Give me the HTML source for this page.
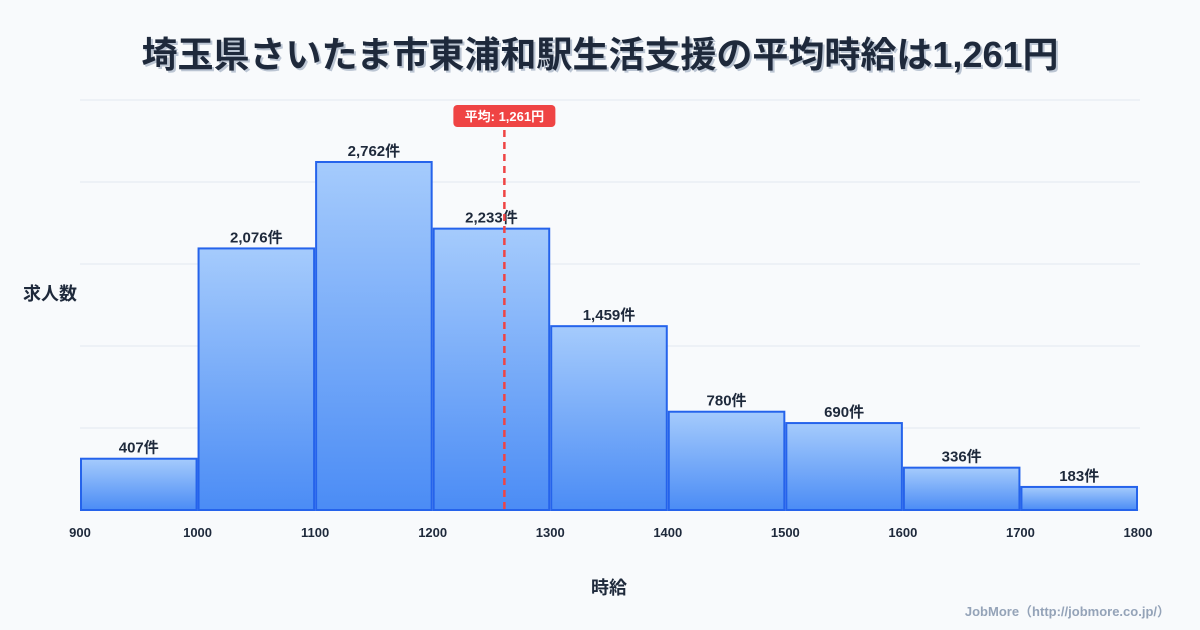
<!DOCTYPE html>
<html><head><meta charset="utf-8"><style>
body{margin:0;background:#f8fafc;}
svg{display:block;font-family:"Liberation Sans","Noto Sans CJK JP",sans-serif;}
</style></head><body>
<svg id="c" width="1200" height="630">
<rect width="1200" height="630" fill="#f8fafc"/>
<defs><linearGradient id="g" x1="0" y1="0" x2="0" y2="1"><stop offset="0" stop-color="#a5cbfc"/><stop offset="1" stop-color="#4b8cf5"/></linearGradient></defs>
<text x="600" y="67" text-anchor="middle" font-size="36" font-weight="bold" fill="#94a3b8" opacity="0.6" transform="translate(2,2)">埼玉県さいたま市東浦和駅生活支援の平均時給は1,261円</text>
<text x="600" y="67" text-anchor="middle" font-size="36" font-weight="bold" fill="#1e293b">埼玉県さいたま市東浦和駅生活支援の平均時給は1,261円</text>
<g id="grid"></g><g id="bars"></g><g id="xt"></g>
<text x="50" y="300" text-anchor="middle" font-size="18" font-weight="bold" fill="#1e293b">求人数</text>
<text x="609" y="594" text-anchor="middle" font-size="18" font-weight="bold" fill="#1e293b">時給</text>
<text x="1170" y="616" text-anchor="end" font-size="13" font-weight="bold" fill="#94a3b8">JobMore（http://jobmore.co.jp/）</text>
<g id="mean"></g>
</svg>
<script>
const binStarts=[900,1000,1100,1200,1300,1400,1500,1600,1700];
const counts=[407,2076,2762,2233,1459,780,690,336,183];
const labels=["407件","2,076件","2,762件","2,233件","1,459件","780件","690件","336件","183件"];
const xTicks=[900,1000,1100,1200,1300,1400,1500,1600,1700,1800];
const meanValue=1261;
const meanLabel="平均: 1,261円";
const yMax=3254;
const ns="http://www.w3.org/2000/svg";
const X0=80,X1=1138,Y0=510,Y1=100;
const sx=v=>X0+(v-900)/(1800-900)*(X1-X0);
const sy=v=>Y0-v/yMax*(Y0-Y1);
function mk(t,a,p){const e=document.createElementNS(ns,t);for(const k in a)e.setAttribute(k,a[k]);p.appendChild(e);return e;}
const grid=document.getElementById('grid');
for(let i=0;i<=5;i++){const y=Y0-(Y0-Y1)*i/5;const l=mk('line',{x1:X0,x2:1140,y1:y,y2:y,stroke:'#e2e8f0','stroke-width':1},grid);

}
const bars=document.getElementById('bars');
counts.forEach((c,i)=>{const x=sx(binStarts[i]),w=sx(binStarts[i]+100)-x;
const r=mk('rect',{x:x+1,y:sy(c),width:w-2,height:Y0-sy(c),fill:'url(#g)',stroke:'#2563eb','stroke-width':2},bars);


const t=mk('text',{x:x+w/2,y:sy(c)-6,'text-anchor':'middle','font-size':15,'font-weight':'bold',fill:'#1e293b'},bars);t.textContent=labels[i];

});
const xt=document.getElementById('xt');
xTicks.forEach(v=>{const t=mk('text',{x:sx(v),y:537,'text-anchor':'middle','font-size':13,'font-weight':'bold',fill:'#1e293b'},xt);t.textContent=v;

});
const m=document.getElementById('mean');const mx=sx(meanValue);
const ml=mk('line',{x1:mx,x2:mx,y1:130,y2:Y0,stroke:'#ef4444','stroke-width':2.5,'stroke-dasharray':'7,5'},m);


const mb=mk('rect',{x:mx-51,y:105,width:102,height:22,rx:4,fill:'#ef4444'},m);


const mt=mk('text',{x:mx,y:121,'text-anchor':'middle','font-size':13,'font-weight':'bold',fill:'#fff'},m);mt.textContent=meanLabel;


</script>
</body></html>
